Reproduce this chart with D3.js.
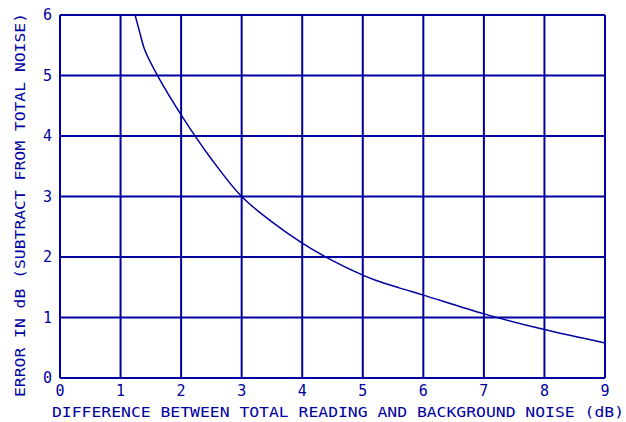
<!DOCTYPE html>
<html><head><meta charset="utf-8">
<script src="https://cdn.jsdelivr.net/npm/d3@7"></script>
<style>body{margin:0;background:#fff}</style>
</head><body>
<svg id="c" width="626" height="422"></svg>
<script>
const xTicks = [0,1,2,3,4,5,6,7,8,9];
const yTicks = [0,1,2,3,4,5,6];
const curveX = [1.24,1.32,1.40,1.62,2.0,2.5,3.0,3.5,4.0,4.5,5.0,5.2,5.6,6.0,7.0,8.0,9.0];
const curveY = [6.0,5.7,5.42,4.98,4.35,3.62,3.0,2.58,2.23,1.94,1.70,1.62,1.49,1.37,1.06,0.80,0.58];
const xLabel = "DIFFERENCE BETWEEN TOTAL READING AND BACKGROUND NOISE (dB)";
const yLabel = "ERROR IN dB (SUBTRACT FROM TOTAL NOISE)";

const col = "#0000a0";
const font = "'DejaVu Sans Mono', monospace";
const svg = d3.select("#c");
const x = d3.scaleLinear().domain([0,9]).range([60,605]);
const y = d3.scaleLinear().domain([0,6]).range([378,15]);

const g = svg.append("g");
g.selectAll("line.v").data(xTicks).join("line")
  .attr("x1", d=>x(d)).attr("x2", d=>x(d)).attr("y1", y(0)).attr("y2", y(6))
  .attr("stroke", col).attr("stroke-width", 2);
g.selectAll("line.h").data(yTicks).join("line")
  .attr("y1", d=>y(d)).attr("y2", d=>y(d)).attr("x1", x(0)).attr("x2", x(9))
  .attr("stroke", col).attr("stroke-width", 2);

const pts = curveX.map((v,i)=>[v, curveY[i]]);
g.append("path").datum(pts)
  .attr("d", d3.line().x(d=>x(d[0])).y(d=>y(d[1])).curve(d3.curveCatmullRom.alpha(0.5)))
  .attr("fill","none").attr("stroke", col).attr("stroke-width", 1.5);

g.selectAll("text.xt").data(xTicks).join("text")
  .attr("x", d=>x(d)).attr("y", 396).attr("text-anchor","middle")
  .attr("font-family", font).attr("font-size", 15).attr("fill", col).text(d=>d);
g.selectAll("text.yt").data(yTicks).join("text")
  .attr("x", 52).attr("y", d=>y(d)+5).attr("text-anchor","end")
  .attr("font-family", font).attr("font-size", 15).attr("fill", col).text(d=>d);

g.append("text").attr("x", 52).attr("y", 417)
  .attr("textLength", 572).attr("lengthAdjust","spacingAndGlyphs")
  .attr("font-family", font).attr("font-size", 14).attr("fill", col).text(xLabel);
g.append("text").attr("transform","translate(25,397) rotate(-90)")
  .attr("textLength", 384).attr("lengthAdjust","spacingAndGlyphs")
  .attr("font-family", font).attr("font-size", 14).attr("fill", col).text(yLabel);
</script>
</body></html>
